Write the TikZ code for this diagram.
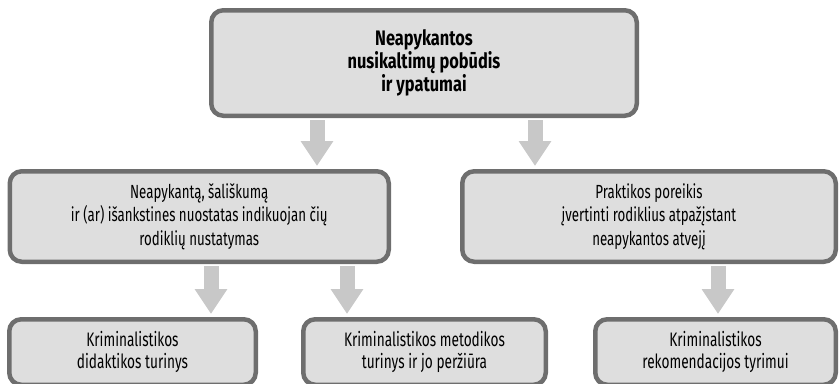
\documentclass[tikz,border=0pt]{standalone}
\usepackage{fontspec}
\setmainfont{Fira Sans}[FakeStretch=0.7]
\newfontfamily\topfam{Fira Sans}[FakeStretch=0.78]
\usetikzlibrary{arrows.meta}
\definecolor{boxfill}{HTML}{DEDEDE}
\definecolor{boxline}{HTML}{6E6E6E}
\definecolor{arrgray}{HTML}{C8C8C8}
\tikzset{
  box/.style={draw=boxline, fill=boxfill, line width=4.5pt, rounded corners=12pt,
    align=center, inner sep=0pt, text=black},
  topfont/.style={font=\topfam\fontsize{21}{20.5}\selectfont\bfseries},
  midfont/.style={font=\fontsize{19}{23.5}\selectfont},
  lowfont/.style={font=\fontsize{19.5}{22}\selectfont},
  flowarrow/.style={draw=arrgray, line width=15pt,
    -{Triangle[width=31pt,length=25pt]}, shorten <=2.25pt, shorten >=3pt}
}
\begin{document}
\begin{tikzpicture}[x=1pt,y=-1pt]
\useasboundingbox (0,0) rectangle (840,383);
\clip (0,0) rectangle (840,383);
\node[box, topfont, minimum width=425.5pt, minimum height=105.5pt] (top) at (424,63)
  {Neapykantos\\nusikaltimų pobūdis\\ir ypatumai};
\node[box, midfont, minimum width=379pt, minimum height=90.5pt] (ml) at (199.25,216.5)
  {Neapykantą, šališkumą\\ir (ar) išankstines nuostatas indikuojan čių\\rodiklių nustatymas};
\node[box, midfont, minimum width=373.5pt, minimum height=90.5pt] (mr) at (649,216.5)
  {Praktikos poreikis\\įvertinti rodiklius atpažįstant\\neapykantos atvejį};
\node[box, lowfont, minimum width=246.5pt, minimum height=65.5pt] (bl) at (132.5,352)
  {Kriminalistikos\\didaktikos turinys};
\node[box, lowfont, minimum width=242.5pt, minimum height=65.5pt] (bm) at (424.5,352)
  {Kriminalistikos metodikos\\turinys ir jo peržiūra};
\node[box, lowfont, minimum width=240.5pt, minimum height=65.5pt] (br) at (715.5,352)
  {Kriminalistikos\\rekomendacijos tyrimui};
\coordinate (xa) at (317,0);
\coordinate (xb) at (535,0);
\coordinate (xc) at (211,0);
\coordinate (xd) at (347,0);
\coordinate (xe) at (718,0);
\draw[flowarrow] (top.south -| xa) -- (ml.north -| xa);
\draw[flowarrow] (top.south -| xb) -- (mr.north -| xb);
\draw[flowarrow] (ml.south -| xc) -- (bl.north -| xc);
\draw[flowarrow] (ml.south -| xd) -- (bm.north -| xd);
\draw[flowarrow] (mr.south -| xe) -- (br.north -| xe);
\end{tikzpicture}
\end{document}
